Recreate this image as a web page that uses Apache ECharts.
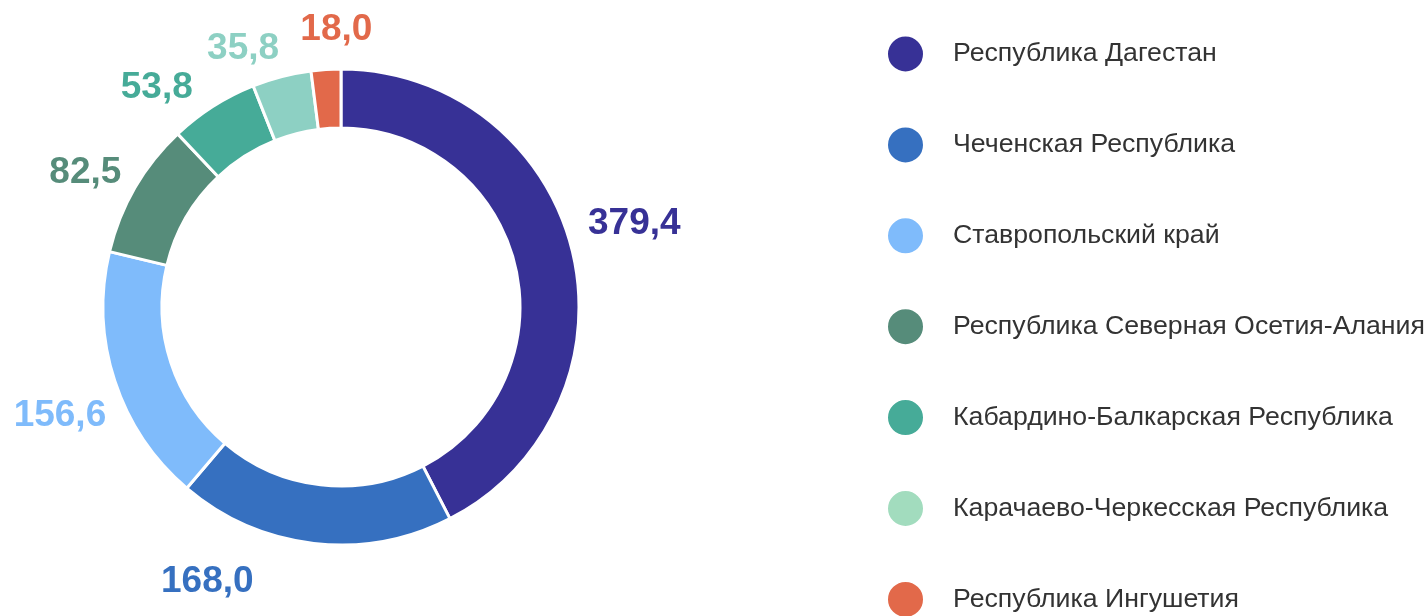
<!DOCTYPE html>
<html>
<head>
<meta charset="utf-8">
<script src="https://cdn.jsdelivr.net/npm/echarts@6/dist/echarts.min.js"></script>
<style>
html,body{margin:0;padding:0;background:#fff;}
#chart{width:1426px;height:616px;}
</style>
</head>
<body>
<div id="chart"></div>
<script>
const categories = [
  'Республика Дагестан',
  'Чеченская Республика',
  'Ставропольский край',
  'Республика Северная Осетия-Алания',
  'Кабардино-Балкарская Республика',
  'Карачаево-Черкесская Республика',
  'Республика Ингушетия'
];
const values = [379.4, 168.0, 156.6, 82.5, 53.8, 35.8, 18.0];
const sliceColors = ['#373196', '#3670c0', '#7fbbfb', '#568c7a', '#46ab98', '#8dd0c3', '#e2694a'];
const legendColors = ['#373196', '#3670c0', '#7fbbfb', '#568c7a', '#46ab98', '#a2dcbe', '#e2694a'];
// label nudges (pixels) relative to ECharts' default outside placement
const labelOffsets = [[1, -25], [-54, 28], [6, 32], [0, -10], [-10, -10], [5, -18], [52, -30]];

const FONT = '"Liberation Sans", Arial, sans-serif';
const chart = echarts.init(document.getElementById('chart'), null, {renderer: 'canvas'});
const option = {
  backgroundColor: '#ffffff',
  animation: false,
  textStyle: {fontFamily: FONT},
  legend: {
    orient: 'vertical',
    left: 886,
    top: 34.5,
    height: 700,
    padding: 0,
    icon: 'circle',
    itemWidth: 37,
    itemHeight: 37,
    itemGap: 51.9,
    textStyle: {fontSize: 26.7, lineHeight: 30, color: '#333333', padding: [0, 0, 0, 24], fontFamily: FONT},
    data: categories.map((c, i) => ({name: c, itemStyle: {color: legendColors[i]}}))
  },
  series: [{
    type: 'pie',
    center: [341, 307],
    radius: [179, 238],
    startAngle: 90,
    clockwise: true,
    avoidLabelOverlap: false,
    itemStyle: {borderColor: '#ffffff', borderWidth: 3},
    label: {
      show: true,
      position: 'outside',
      color: 'inherit',
      fontSize: 37,
      fontWeight: 'bold',
      fontFamily: FONT,
      formatter: p => p.value.toFixed(1).replace('.', ',')
    },
    labelLine: {show: false, length: 10, length2: 0},
    labelLayout: {hideOverlap: false},
    data: categories.map((c, i) => ({
      name: c,
      value: values[i],
      itemStyle: {color: sliceColors[i]},
      label: {offset: labelOffsets[i]}
    }))
  }]
};
chart.setOption(option);
</script>
</body>
</html>
